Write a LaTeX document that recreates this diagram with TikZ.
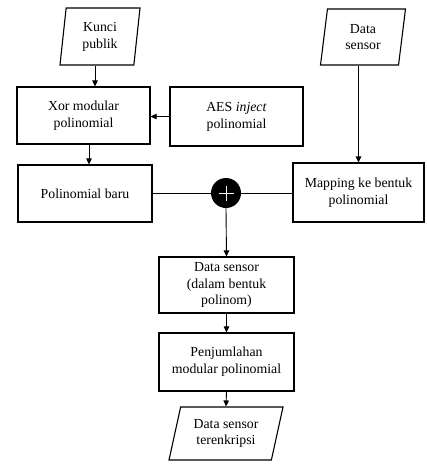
\documentclass[tikz,border=0pt]{standalone}
\usepackage{fontspec}
\setmainfont{Liberation Serif}
\usetikzlibrary{shapes.geometric,arrows.meta}
\begin{document}
\begin{tikzpicture}[x=1pt,y=-1pt,
  every node/.style={font=\fontsize{13.8}{16.8}\selectfont, align=center, inner sep=0pt},
  box/.style={draw, line width=1.1pt, minimum width=#1},
  para/.style={draw, line width=1.1pt, trapezium, trapezium stretches body=true},
  arr/.style={line width=0.9pt, -{Triangle[length=6pt,width=5.5pt]}},
  ln/.style={line width=0.9pt}]
\useasboundingbox (0,0) rectangle (427,466);
\node[para, trapezium left angle=78, trapezium right angle=102, minimum width=80pt, minimum height=57pt] (kp) at (100,36.5) {Kunci\\publik};
\node[para, trapezium left angle=75, trapezium right angle=105, minimum width=85pt, minimum height=56pt] (ds) at (363,37) {Data\\sensor};
\node[box=133pt, minimum height=57pt] (xor) at (83.5,115.5) {Xor modular\\polinomial};
\node[box=133pt, minimum height=59pt] (aes) at (236.5,116.5) {AES \textit{inject}\\polinomial};
\node[box=134pt, minimum height=57pt] (pb) at (85,193.5) {Polinomial baru};
\node[box=131pt, minimum height=59pt] (map) at (358.5,192.5) {Mapping ke bentuk\\polinomial};
\node[circle, fill=black, minimum size=30pt] (plus) at (226,193) {};
\draw[white, line width=0.9pt] ([xshift=-7.5pt]plus.center) -- ([xshift=7.5pt]plus.center)
  ([yshift=-7.5pt]plus.center) -- ([yshift=7.5pt]plus.center);
\node[box=135pt, minimum height=56pt] (dsp) at (226.5,285) {Data sensor\\(dalam bentuk\\polinom)};
\node[box=135pt, minimum height=58pt] (pj) at (226.5,362) {Penjumlahan\\modular polinomial};
\node[para, trapezium left angle=68, trapezium right angle=112, minimum width=114pt, minimum height=53pt] (out) at (226,433.5) {Data sensor\\terenkripsi};
\draw[arr] ([xshift=-5pt]kp.south) -- ([xshift=-5pt]kp.south |- xor.north);
\draw[arr] ([xshift=5.5pt]xor.south) -- ([xshift=5.5pt]xor.south |- pb.north);
\draw[arr] (aes.west) -- (aes.west -| xor.east);
\draw[arr] (ds.south -| map.north) -- (map.north);
\draw[ln] (pb.east |- plus) -- (plus.west);
\draw[ln] (map.west |- plus) -- (plus.east);
\draw[arr] (plus.south) -- (dsp.north);
\draw[arr] (dsp.south) -- (pj.north);
\draw[arr] (pj.south) -- (out.north);
\end{tikzpicture}
\end{document}
